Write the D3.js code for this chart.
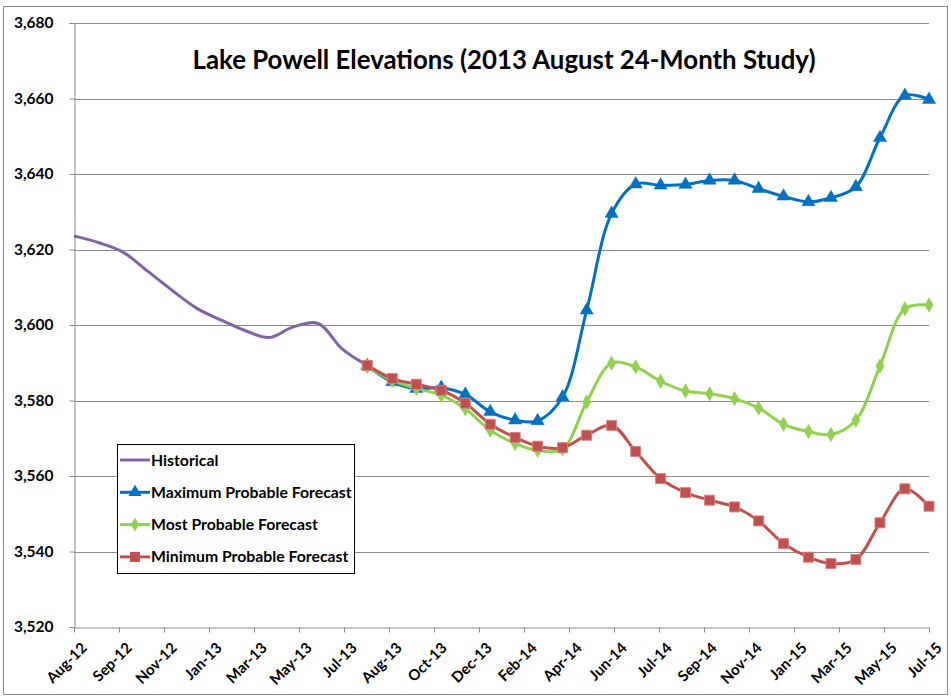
<!DOCTYPE html>
<html>
<head>
<meta charset="utf-8">
<script src="https://cdn.jsdelivr.net/npm/d3@7"></script>
<style>
  html, body { margin: 0; padding: 0; background: #fff; }
  svg text { font-family: Lato, "Open Sans", sans-serif; font-weight: bold; fill: #000; }
</style>
</head>
<body>
<div id="chart"></div>
<script>
// monthly elevations (ft)
const histMonths = ["2012-08", "2012-09", "2012-10", "2012-11", "2012-12", "2013-01", "2013-02",
  "2013-03", "2013-04", "2013-05", "2013-06", "2013-07", "2013-08"];
const historical = [3623.6, 3621.8, 3619.3, 3614.2, 3609.2, 3604.4, 3601.2,
  3598.6, 3596.7, 3599.5, 3600.4, 3593.6, 3589.3];

const fcstMonths = ["2013-08", "2013-09", "2013-10", "2013-11", "2013-12", "2014-01", "2014-02", "2014-03",
  "2014-04", "2014-05", "2014-06", "2014-07", "2014-08", "2014-09", "2014-10", "2014-11", "2014-12",
  "2015-01", "2015-02", "2015-03", "2015-04", "2015-05", "2015-06", "2015-07"];
const maxProbable = [3589.2, 3584.9, 3583.1, 3583.4, 3581.6, 3577.0, 3574.8, 3574.6,
  3580.9, 3603.9, 3629.5, 3637.3, 3637.0, 3637.2, 3638.3, 3638.3, 3636.1,
  3634.1, 3632.6, 3633.7, 3636.6, 3649.6, 3660.8, 3659.7];
const mostProbable = [3589.0, 3585.3, 3583.2, 3581.4, 3577.8, 3572.1, 3568.6, 3566.8,
  3567.2, 3579.6, 3589.9, 3588.9, 3585.1, 3582.5, 3581.8, 3580.5, 3578.0,
  3573.7, 3571.8, 3571.0, 3574.8, 3589.1, 3604.3, 3605.3];
const minProbable = [3589.3, 3585.8, 3584.3, 3582.7, 3579.3, 3573.7, 3570.2, 3567.9,
  3567.5, 3570.8, 3573.4, 3566.5, 3559.3, 3555.6, 3553.6, 3551.8, 3548.1,
  3542.1, 3538.5, 3536.8, 3537.9, 3547.6, 3556.6, 3552.0];

const seriesNames = ["Historical", "Maximum Probable Forecast", "Most Probable Forecast", "Minimum Probable Forecast"];
const seriesColors = ["#8064A2", "#0070C0", "#92D050", "#C0504D"];

const yTicks = [3520, 3540, 3560, 3580, 3600, 3620, 3640, 3660, 3680];
const axisStart = "2012-08-01", axisEnd = "2015-07-01", tickStepDays = 56;

const width = 951, height = 698;
const margin = { top: 23, right: 22, bottom: 71, left: 74 };

const parseMonth = d3.timeParse("%Y-%m");
const parseDay = d3.timeParse("%Y-%m-%d");

const svg = d3.select("#chart").append("svg")
  .attr("width", width)
  .attr("height", height);

// chart border
svg.append("rect")
  .attr("x", 3.5).attr("y", 6.5)
  .attr("width", 944).attr("height", 688)
  .attr("fill", "none").attr("stroke", "#8c8c8c").attr("stroke-width", 1);

const x = d3.scaleTime()
  .domain([parseDay(axisStart), parseDay(axisEnd)])
  .range([margin.left, width - margin.right]);
const y = d3.scaleLinear()
  .domain([3520, 3680])
  .range([height - margin.bottom, margin.top]);

const x0 = x.range()[0], x1 = x.range()[1];
const plotBottom = y(3520);

// gridlines
svg.append("g")
  .selectAll("line")
  .data(yTicks.slice(1))
  .join("line")
    .attr("x1", x0).attr("x2", x1)
    .attr("y1", d => Math.round(y(d)) + 0.5)
    .attr("y2", d => Math.round(y(d)) + 0.5)
    .attr("stroke", "#8c8c8c").attr("stroke-width", 1);

// y axis
const yAxis = svg.append("g")
  .attr("transform", `translate(${x0 + 0.5},0)`)
  .call(d3.axisLeft(y).tickValues(yTicks).tickFormat(d3.format(",")).tickSize(5).tickPadding(16));
yAxis.selectAll("path, line").attr("stroke", "#8c8c8c");
yAxis.selectAll("text").style("font-size", "15.5px");

// x axis, Excel date axis with 56 day major unit
const xTickDates = d3.range(0, 1065, tickStepDays).map(d => d3.timeDay.offset(parseDay(axisStart), d));
const xAxis = svg.append("g")
  .attr("transform", `translate(0,${Math.round(plotBottom) + 0.5})`)
  .call(d3.axisBottom(x).tickValues(xTickDates).tickFormat(d3.timeFormat("%b-%y")).tickSize(5).tickSizeOuter(0));
xAxis.selectAll("path, line").attr("stroke", "#8c8c8c");
xAxis.selectAll("text")
  .style("font-size", "15px")
  .attr("text-anchor", "end")
  .attr("dy", "0.35em")
  .attr("transform", "translate(4,12) rotate(-45)");

// title
svg.append("text")
  .attr("x", 504).attr("y", 69)
  .attr("text-anchor", "middle")
  .style("font-size", "25.8px")
  .text("Lake Powell Elevations (2013 August 24-Month Study)");

const line = d3.line()
  .x(d => x(d.date))
  .y(d => y(d.value))
  .curve(d3.curveCatmullRom.alpha(0.5));

const histData = histMonths.map((m, i) => ({ date: parseMonth(m), value: historical[i] }));
const fcst = [maxProbable, mostProbable, minProbable].map(vals =>
  fcstMonths.map((m, i) => ({ date: parseMonth(m), value: vals[i] })));

svg.append("path")
  .datum(histData)
  .attr("d", line)
  .attr("fill", "none")
  .attr("stroke", seriesColors[0])
  .attr("stroke-width", 3);

const symbols = [d3.symbolTriangle, d3.symbolDiamond, d3.symbolSquare];
const symbolSizes = [75, 60, 100];

fcst.forEach((data, k) => {
  const color = seriesColors[k + 1];
  svg.append("path")
    .datum(data)
    .attr("d", line)
    .attr("fill", "none")
    .attr("stroke", color)
    .attr("stroke-width", 3);
  svg.append("g")
    .selectAll("path")
    .data(data)
    .join("path")
      .attr("transform", d => `translate(${x(d.date)},${y(d.value)})`)
      .attr("d", d3.symbol(symbols[k], symbolSizes[k]))
      .attr("fill", color)
      .attr("stroke", k == 2 ? "#d9807e" : color)
      .attr("stroke-width", k == 2 ? 1 : 0.5);
});

// legend
const legend = svg.append("g").attr("transform", "translate(117,444)");
legend.append("rect")
  .attr("x", 0.5).attr("y", 0.5)
  .attr("width", 237).attr("height", 129)
  .attr("fill", "#fff").attr("stroke", "#000").attr("stroke-width", 1);

const rows = legend.selectAll("g.row")
  .data(seriesNames)
  .join("g")
    .attr("class", "row")
    .attr("transform", (d, i) => `translate(0,${16 + i * 32.3})`);
rows.append("line")
  .attr("x1", 3).attr("x2", 33)
  .attr("stroke", (d, i) => seriesColors[i])
  .attr("stroke-width", 3);
rows.filter((d, i) => i > 0).append("path")
  .attr("transform", "translate(18,0)")
  .attr("d", (d, i) => d3.symbol(symbols[i], symbolSizes[i])())
  .attr("fill", (d, i) => seriesColors[i + 1]);
rows.append("text")
  .attr("x", 34).attr("dy", "0.35em")
  .style("font-size", "15.8px")
  .text(d => d);
</script>
</body>
</html>
